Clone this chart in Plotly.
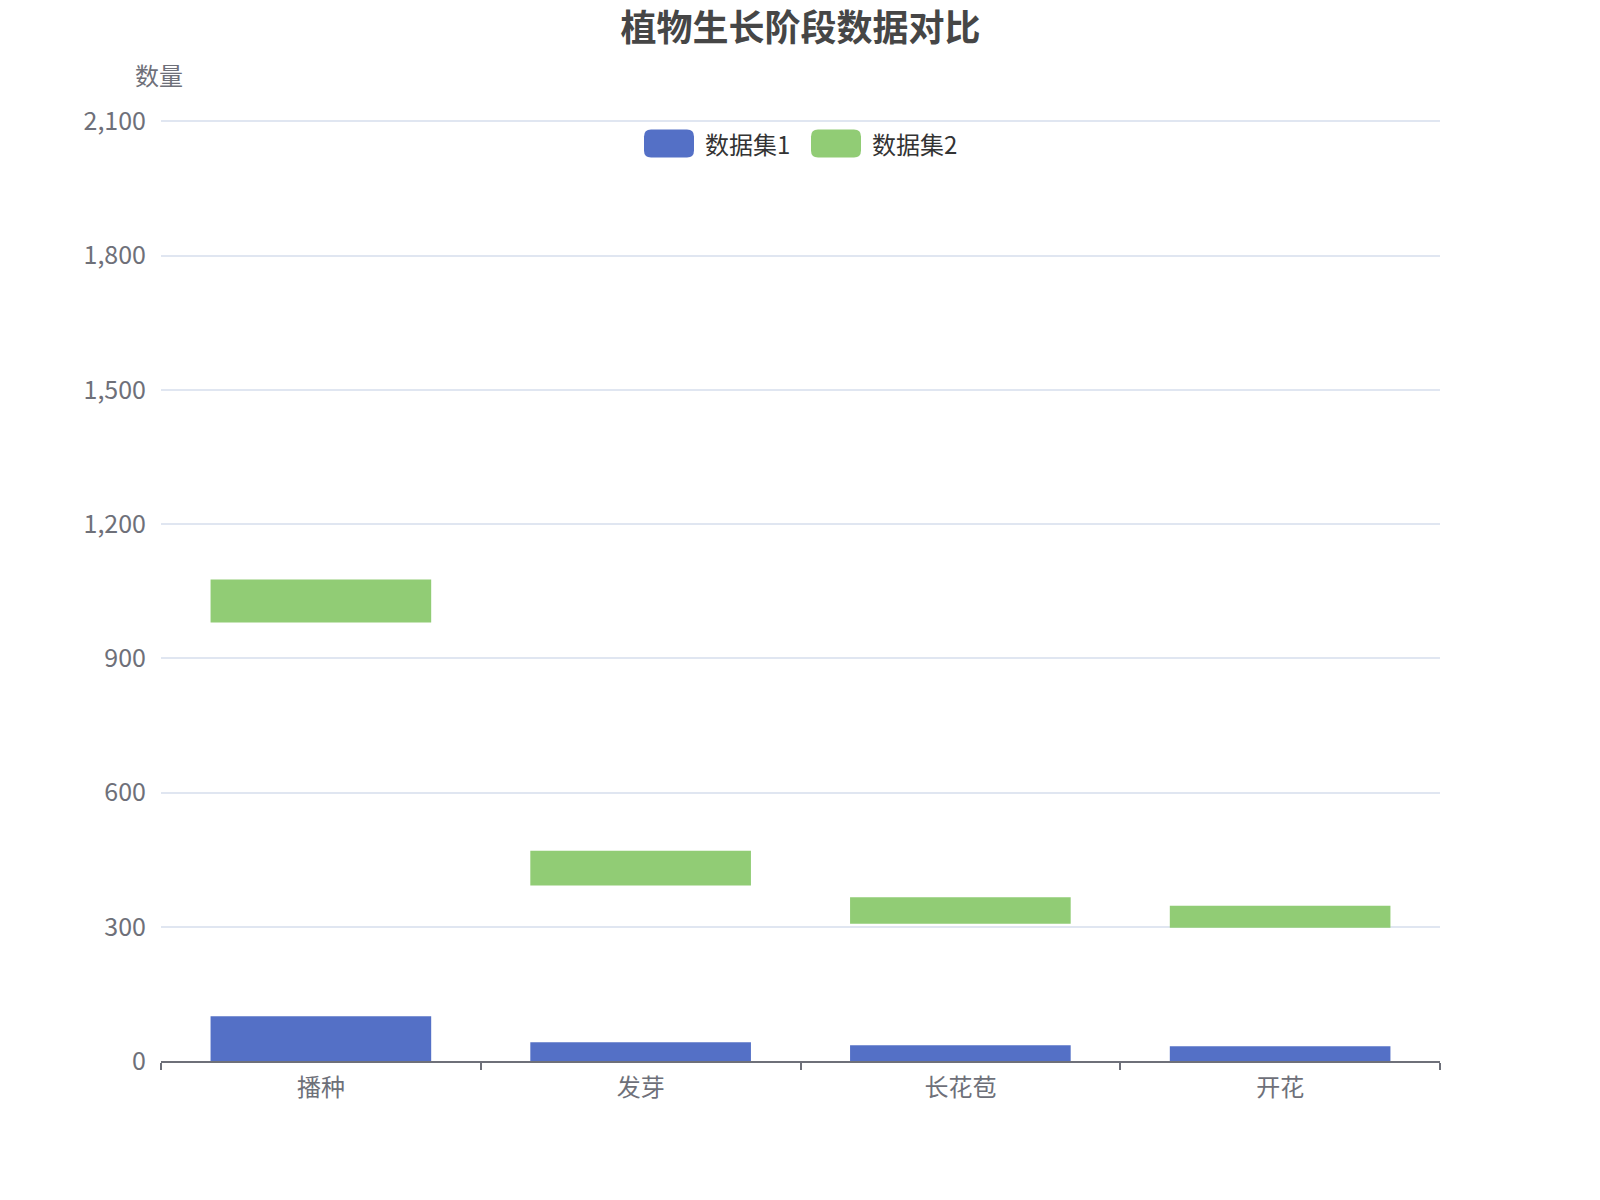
import plotly.graph_objects as go

# stages of plant growth
categories = ['播种', '发芽', '长花苞', '开花']

# data set 1 (bars from zero)
set1_values = [100, 42, 35, 33]

# data set 2 (floating bars: low / high)
set2_low = [980, 392, 307, 298]
set2_high = [1076, 470, 366, 347]

series_names = ['数据集1', '数据集2']
series_colors = ['#5470c6', '#91cc75']

y_ticks = [0, 300, 600, 900, 1200, 1500, 1800, 2100]
Y_MAX = 2130

FONT = 'Noto Sans CJK SC'
AXIS_COLOR = '#6e7079'

W, H = 1600, 1200
# the 2100 gridline sits at pixel 113, the range runs a little above it
M_L, M_R, M_B = 153, 168, 147
M_T = 113 - (Y_MAX - 2100) * 940 / 2100
PLOT_W = W - M_L - M_R
PLOT_H = H - M_T - M_B


# Converts a pixel position on the page into paper coordinates.
def to_paper(px, py):
    return (px - M_L) / PLOT_W, 1 - (py - M_T) / PLOT_H


# Builds an svg path for a rounded rectangle given in pixels.
def rounded_rect(x0, y0, x1, y1, r):
    pts = [('M', [(x0 + r, y0)]), ('L', [(x1 - r, y0)]), ('Q', [(x1, y0), (x1, y0 + r)]),
           ('L', [(x1, y1 - r)]), ('Q', [(x1, y1), (x1 - r, y1)]), ('L', [(x0 + r, y1)]),
           ('Q', [(x0, y1), (x0, y1 - r)]), ('L', [(x0, y0 + r)]), ('Q', [(x0, y0), (x0 + r, y0)])]
    path = ''
    for cmd, coords in pts:
        path += cmd + ' ' + ' '.join('%.5f,%.5f' % to_paper(x, y) for x, y in coords) + ' '
    return path + 'Z'


def make_graph():
    fig = go.Figure()

    fig.add_trace(go.Bar(x=categories,
                         y=set1_values,
                         name=series_names[0],
                         marker=dict(color=series_colors[0], line=dict(width=0)),
                         width=0.69))

    heights = [h - l for l, h in zip(set2_low, set2_high)]
    fig.add_trace(go.Bar(x=categories,
                         y=heights,
                         base=set2_low,
                         name=series_names[1],
                         marker=dict(color=series_colors[1], line=dict(width=0)),
                         width=0.69))

    fig.update_layout(
        width=W, height=H,
        barmode='overlay',
        paper_bgcolor='white',
        plot_bgcolor='white',
        font=dict(family=FONT, color=AXIS_COLOR, size=24),
        margin=dict(l=M_L, r=M_R, t=M_T, b=M_B),
        title=dict(text='<b>植物生长阶段数据对比</b>',
                   xref='paper', x=0.5, xanchor='center',
                   y=1 - 20 / H, yanchor='middle',
                   font=dict(family=FONT, size=36, color='#464646')),
        showlegend=False,
    )

    fig.update_xaxes(showline=True, linecolor=AXIS_COLOR, linewidth=1.5,
                     ticks='outside', tickson='boundaries', ticklen=7,
                     tickcolor=AXIS_COLOR, tickwidth=1.5,
                     showgrid=False, ticklabelstandoff=4,
                     tickfont=dict(family=FONT, size=24, color=AXIS_COLOR))

    fig.update_yaxes(range=[0, Y_MAX], tickvals=y_ticks, tickformat=',',
                     showgrid=True, gridcolor='#e0e6f1', gridwidth=1.5,
                     zeroline=False, showline=False,
                     ticklabelstandoff=14,
                     tickfont=dict(family=FONT, size=25, color=AXIS_COLOR))

    # axis name
    ax, ay = to_paper(151, 66)
    fig.add_annotation(text='数量', xref='paper', yref='paper',
                       x=ax, xanchor='center', y=ay, yanchor='middle',
                       showarrow=False,
                       font=dict(family=FONT, size=24, color=AXIS_COLOR))

    # legend drawn as rounded icons and labels, like the reference
    icon_left = [636, 803]
    for i in range(len(series_names)):
        x0 = icon_left[i]
        fig.add_shape(type='path', xref='paper', yref='paper',
                      path=rounded_rect(x0, 121, x0 + 50, 149, 7),
                      fillcolor=series_colors[i], line=dict(width=0))
        tx, ty = to_paper(x0 + 59, 135)
        fig.add_annotation(text=series_names[i], xref='paper', yref='paper',
                           x=tx, xanchor='left', y=ty, yanchor='middle',
                           showarrow=False,
                           font=dict(family=FONT, size=24, color='#333333'))

    fig.write_html('out.html')


if __name__ == '__main__':
    make_graph()
